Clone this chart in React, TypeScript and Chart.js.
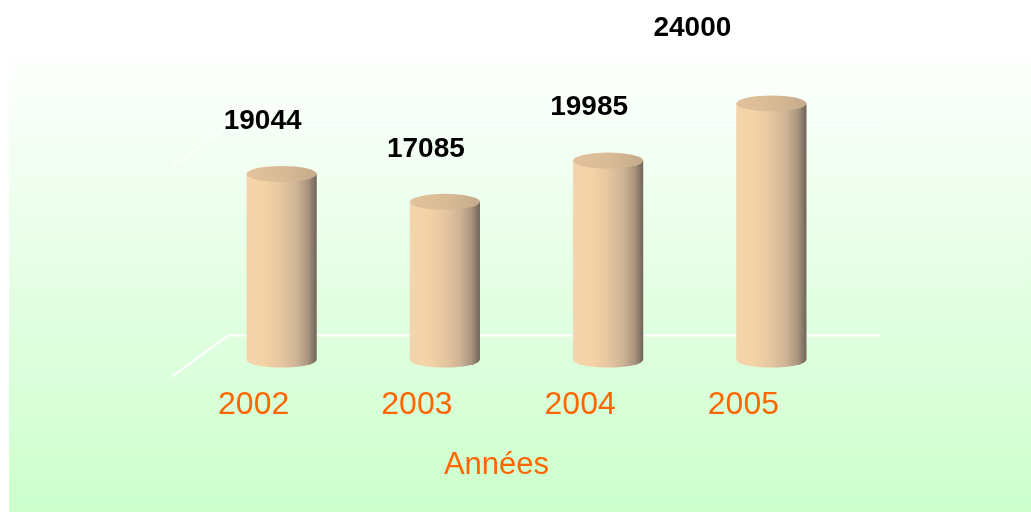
import React, { useEffect, useRef } from "react";
import { Chart, registerables } from "chart.js";

Chart.register(...registerables);

// ---- data ----
const categories: string[] = ["2002", "2003", "2004", "2005"];
const values: number[] = [19044, 17085, 19985, 24000];
const axisTitle = "Années";
const yMin = 6000;
const yMax = 26000;

// ---- layout / style (not data) ----
const W = 1031;
const H = 512;
const FONT = "'Liberation Sans', Arial, Helvetica, sans-serif";
const ORANGE = "#ff6600";
// extra shift applied to individual value labels (the reference moves the last one up-left)
const labelNudge: [number, number][] = [[0, 0], [0, 0], [0, 0], [-60, -22]];

const backgroundPlugin = {
  id: "panelBackground",
  beforeDraw(chart: any) {
    const ctx: CanvasRenderingContext2D = chart.ctx;
    ctx.save();
    ctx.fillStyle = "#ffffff";
    ctx.fillRect(0, 0, chart.width, chart.height);
    const g = ctx.createLinearGradient(0, 40, 0, chart.height);
    g.addColorStop(0, "#ffffff");
    g.addColorStop(1, "#ccffcc");
    ctx.fillStyle = g;
    ctx.fillRect(9, 40, chart.width - 9, chart.height - 40);
    ctx.restore();
  },
};

const wallsPlugin = {
  id: "walls3d",
  beforeDatasetsDraw(chart: any) {
    const ctx: CanvasRenderingContext2D = chart.ctx;
    const { left: L, right: R, bottom: B } = chart.chartArea;
    const line = (x1: number, y1: number, x2: number, y2: number) => {
      ctx.beginPath();
      ctx.moveTo(x1, y1);
      ctx.lineTo(x2, y2);
      ctx.stroke();
    };
    ctx.save();
    ctx.strokeStyle = "#ffffff";
    ctx.lineWidth = 2;
    line(L - 28, B + 17, L + 28, B - 24);
    line(L + 28, B - 24, R + 27, B - 24);
    ctx.lineWidth = 1.5;
    line(L - 28, B - 192, L + 28, B - 234);
    line(L + 28, B - 234, R + 27, B - 234);
    ctx.restore();
  },
};

const cylinderPlugin = {
  id: "cylinders",
  afterDatasetsDraw(chart: any) {
    const ctx: CanvasRenderingContext2D = chart.ctx;
    const meta = chart.getDatasetMeta(0);
    meta.data.forEach((bar: any) => {
      const { x, y, base, width } = bar.getProps(["x", "y", "base", "width"], true);
      const rx = width / 2;
      const ry = 8;
      const l = x - rx;
      const r = x + rx;
      ctx.save();
      // body
      ctx.beginPath();
      ctx.moveTo(l, y);
      ctx.lineTo(l, base);
      ctx.ellipse(x, base, rx, ry, 0, Math.PI, 0, true);
      ctx.lineTo(r, y);
      ctx.closePath();
      const g = ctx.createLinearGradient(l, 0, r, 0);
      g.addColorStop(0, "#f3d4ac");
      g.addColorStop(0.25, "#f4d3a6");
      g.addColorStop(0.5, "#e6c6a0");
      g.addColorStop(0.72, "#cdb395");
      g.addColorStop(0.88, "#a8937d");
      g.addColorStop(1, "#6f6459");
      ctx.fillStyle = g;
      ctx.fill();
      // top face
      ctx.beginPath();
      ctx.ellipse(x, y, rx, ry, 0, 0, Math.PI * 2);
      const t = ctx.createLinearGradient(l, 0, r, 0);
      t.addColorStop(0, "#e2c29c");
      t.addColorStop(0.6, "#d6b994");
      t.addColorStop(1, "#c4aa8c");
      ctx.fillStyle = t;
      ctx.fill();
      ctx.restore();
    });
  },
};

const labelsPlugin = {
  id: "valueLabelsAndTitle",
  afterDraw(chart: any) {
    const ctx: CanvasRenderingContext2D = chart.ctx;
    const meta = chart.getDatasetMeta(0);
    const { left: L, right: R, bottom: B } = chart.chartArea;
    ctx.save();
    ctx.textAlign = "center";
    ctx.textBaseline = "middle";
    ctx.fillStyle = "#000000";
    ctx.font = `bold 28px ${FONT}`;
    meta.data.forEach((bar: any, i: number) => {
      const { x, y } = bar.getProps(["x", "y"], true);
      const n = labelNudge[i] || [0, 0];
      ctx.fillText(String(values[i]), x - 19 + n[0], y - 53 + n[1]);
    });
    ctx.fillStyle = ORANGE;
    ctx.font = `31px ${FONT}`;
    ctx.fillText(axisTitle, (L + R) / 2 - 30, B + 106);
    ctx.restore();
  },
};

export default function App() {
  const ref = useRef<HTMLCanvasElement | null>(null);
  useEffect(() => {
    const prevMargin = document.body.style.margin;
    document.body.style.margin = "0";
    const canvas = ref.current!;
    const chart = new Chart(canvas, {
      type: "bar",
      data: {
        labels: categories,
        datasets: [
          {
            data: values,
            base: yMin,
            backgroundColor: "rgba(0,0,0,0)",
            borderWidth: 0,
            categoryPercentage: 1,
            barPercentage: 0.43,
          },
        ],
      },
      options: {
        responsive: false,
        animation: false,
        devicePixelRatio: 1,
        layout: { padding: { left: 200, right: 178, top: 75, bottom: 62 } },
        plugins: {
          legend: { display: false },
          tooltip: { enabled: false },
        },
        scales: {
          x: {
            grid: { display: false, drawTicks: false },
            border: { display: false },
            ticks: {
              color: ORANGE,
              font: { family: FONT, size: 32 },
              padding: 26,
              labelOffset: -28,
              maxRotation: 0,
              autoSkip: false,
            },
          },
          y: { display: false, min: yMin, max: yMax },
        },
      },
      plugins: [backgroundPlugin, wallsPlugin, cylinderPlugin, labelsPlugin],
    } as any);
    return () => {
      chart.destroy();
      document.body.style.margin = prevMargin;
    };
  }, []);
  return (
    <div style={{ position: "fixed", left: 0, top: 0, width: W, height: H }}>
      <canvas ref={ref} width={W} height={H} style={{ width: W, height: H, display: "block" }} />
    </div>
  );
}
